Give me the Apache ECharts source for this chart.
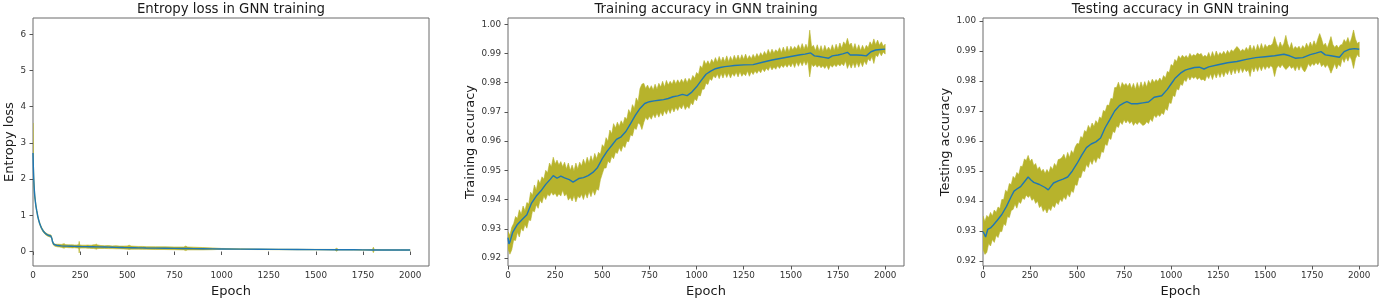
<!DOCTYPE html>
<html><head><meta charset="utf-8">
<script src="https://cdn.jsdelivr.net/npm/echarts@6/dist/echarts.min.js"></script>
<style>html,body{margin:0;padding:0;background:#fff}#c{width:1381px;height:298px}</style>
</head><body><div id="c"></div>
<script>
// ---------- tick labels ----------
const epochTicks = [0, 250, 500, 750, 1000, 1250, 1500, 1750, 2000];
const lossTicks = [0, 1, 2, 3, 4, 5, 6];
const accTicks = [0.92, 0.93, 0.94, 0.95, 0.96, 0.97, 0.98, 0.99, 1.00];

// ---------- entropy loss ----------
const lossEpochs = [0,2,4,6,8,10,13,16,20,25, 30,35,40,45,50,55,60,65,70,75, 80,85,90,94,97,100,103,106,110,115,
  120,130,140,150,160,165,170,180,190,200, 210,220,230,240,243,245,247,250,260,270, 280,290,300,310,320,330,335,340,350,360,
  380,400,420,440,460,480,500,510,520,540, 560,580,600,650,700,750,800,810,820,850, 900,950,1000,1100,1200,1300,1400,1500,1600,1610,
  1620,1700,1750,1800,1805,1810,1850,1900,1950,2000];
const lossMean = [2.72,2.30,2.00,1.78,1.62,1.50,1.36,1.24,1.12,0.98, 0.87,0.78,0.71,0.65,0.60,0.56,0.53,0.50,0.48,0.46,
  0.45,0.44,0.43,0.43,0.41,0.36,0.28,0.23,0.20,0.18, 0.17,0.165,0.16,0.155,0.152,0.150,0.150,0.148,0.146,0.145,
  0.143,0.142,0.140,0.139,0.138,0.138,0.138,0.137,0.136,0.135, 0.134,0.133,0.132,0.131,0.130,0.129,0.128,0.128,0.127,0.125,
  0.123,0.120,0.118,0.115,0.113,0.110,0.108,0.107,0.106,0.104, 0.102,0.100,0.098,0.094,0.090,0.086,0.083,0.082,0.082,0.080,
  0.077,0.074,0.071,0.066,0.062,0.058,0.055,0.052,0.049,0.049, 0.049,0.047,0.045,0.044,0.044,0.044,0.043,0.042,0.041,0.040];
const lossUpper = [3.55,2.45,2.10,1.86,1.68,1.55,1.40,1.28,1.15,1.01, 0.90,0.81,0.74,0.68,0.63,0.59,0.56,0.53,0.51,0.49,
  0.48,0.47,0.46,0.46,0.44,0.39,0.31,0.26,0.23,0.21, 0.20,0.20,0.20,0.195,0.21,0.22,0.195,0.19,0.185,0.185,
  0.185,0.18,0.18,0.185,0.21,0.28,0.20,0.18,0.175,0.175, 0.175,0.18,0.175,0.175,0.185,0.19,0.21,0.185,0.175,0.165,
  0.16,0.165,0.155,0.16,0.15,0.15,0.155,0.175,0.15,0.145, 0.14,0.14,0.135,0.13,0.13,0.125,0.125,0.15,0.125,0.12,
  0.11,0.10,0.085,0.075,0.07,0.066,0.062,0.06,0.058,0.09, 0.056,0.054,0.052,0.055,0.12,0.055,0.05,0.049,0.048,0.047];
const lossLower = [2.00,2.15,1.90,1.70,1.56,1.45,1.32,1.20,1.09,0.95, 0.84,0.75,0.68,0.62,0.57,0.53,0.50,0.47,0.45,0.43,
  0.42,0.41,0.40,0.40,0.38,0.33,0.25,0.20,0.17,0.15, 0.14,0.13,0.125,0.115,0.10,0.09,0.11,0.11,0.105,0.105,
  0.10,0.105,0.10,0.095,0.06,-0.04,0.07,0.095,0.095,0.095, 0.095,0.09,0.09,0.085,0.085,0.075,0.06,0.075,0.085,0.085,
  0.085,0.08,0.08,0.075,0.075,0.07,0.065,0.055,0.065,0.065, 0.065,0.06,0.06,0.055,0.055,0.05,0.045,0.025,0.045,0.045,
  0.045,0.05,0.06,0.057,0.054,0.05,0.048,0.045,0.04,0.01, 0.042,0.040,0.038,0.035,-0.03,0.035,0.036,0.035,0.034,0.033];

// ---------- band epochs (every 10 epochs) ----------
const bandEpochs = Array.from({length: 201}, (_, i) => i * 10);

// ---------- training accuracy ----------
const trainMeanEpochs = [0,5,10,25,50,75,100,125,150,175,200,225,240,260,280,300,325,345,375,400,425,450,475,500,525,550,575,600,625,650,
  675,700,725,750,775,800,825,850,875,900,925,950,975,1000,1025,1050,1075,1100,1125,1150,1175,1200,1250,1300,1350,1400,1450,1500,1550,1575,
  1605,1625,1650,1675,1700,1720,1750,1775,1800,1815,1850,1875,1900,1925,1950,1975,2000];
const trainMean = [0.9270,0.9248,0.9255,0.9288,0.9315,0.9332,0.9348,0.9388,0.9412,0.9430,0.9452,0.9470,0.9482,0.9473,0.9480,0.9474,0.9468,0.9460,0.9472,0.9475,
  0.9482,0.9493,0.9510,0.9540,0.9565,0.9585,0.9606,0.9615,0.9633,0.9660, 0.9688,0.9712,0.9729,0.9735,0.9738,0.9740,0.9742,0.9746,0.9752,0.9755,
  0.9760,0.9756,0.9768,0.9786,0.9808,0.9829,0.9840,0.9848,0.9852,0.9855, 0.9857,0.9859,0.9861,0.9862,0.9870,0.9878,0.9884,0.9890,0.9896,0.9898,
  0.9902,0.9892,0.9890,0.9887,0.9884,0.9892,0.9895,0.9899,0.9904,0.9895, 0.9895,0.9894,0.9892,0.9906,0.9912,0.9914,0.9915];
const trainUpper = [
  0.9290,0.9278,0.9305,0.9318,0.9342,0.9335,0.9365,0.9350,0.9378,0.9362,
  0.9390,0.9385,0.9425,0.9415,0.9450,0.9432,0.9468,0.9455,0.9478,0.9470,
  0.9500,0.9492,0.9525,0.9512,0.9545,0.9522,0.9535,0.9518,0.9530,0.9512,
  0.9528,0.9505,0.9525,0.9500,0.9518,0.9498,0.9525,0.9505,0.9528,0.9515,
  0.9538,0.9520,0.9545,0.9525,0.9550,0.9530,0.9558,0.9540,0.9562,0.9555,
  0.9588,0.9580,0.9612,0.9600,0.9638,0.9625,0.9660,0.9645,0.9665,0.9650,
  0.9670,0.9658,0.9682,0.9675,0.9708,0.9695,0.9725,0.9712,0.9748,0.9735,
  0.9780,0.9795,0.9798,0.9780,0.9792,0.9778,0.9790,0.9775,0.9795,0.9778,
  0.9798,0.9785,0.9805,0.9785,0.9808,0.9792,0.9805,0.9795,0.9810,0.9796,
  0.9810,0.9798,0.9812,0.9800,0.9815,0.9800,0.9815,0.9806,0.9825,0.9815,
  0.9835,0.9828,0.9858,0.9850,0.9876,0.9862,0.9875,0.9862,0.9880,0.9868,
  0.9886,0.9870,0.9890,0.9872,0.9888,0.9872,0.9892,0.9872,0.9890,0.9875,
  0.9894,0.9878,0.9895,0.9878,0.9896,0.9880,0.9898,0.9880,0.9893,0.9882,
  0.9897,0.9885,0.9900,0.9888,0.9903,0.9892,0.9907,0.9895,0.9914,0.9898,
  0.9915,0.9902,0.9913,0.9905,0.9920,0.9903,0.9922,0.9904,0.9925,0.9906,
  0.9925,0.9912,0.9924,0.9915,0.9930,0.9914,0.9934,0.9915,0.9932,0.9916,
  0.9980,0.9922,0.9928,0.9910,0.9930,0.9908,0.9927,0.9906,0.9928,0.9910,
  0.9922,0.9910,0.9930,0.9910,0.9932,0.9914,0.9936,0.9918,0.9940,0.9930,
  0.9952,0.9928,0.9936,0.9915,0.9934,0.9912,0.9930,0.9910,0.9928,0.9912,
  0.9928,0.9920,0.9940,0.9928,0.9950,0.9930,0.9946,0.9928,0.9940,0.9925,0.9932];
const trainLower = [
  0.9232,0.9213,0.9228,0.9262,0.9260,0.9288,0.9272,0.9302,0.9292,0.9315,
  0.9302,0.9330,0.9328,0.9362,0.9358,0.9382,0.9370,0.9398,0.9388,0.9412,
  0.9400,0.9418,0.9412,0.9425,0.9415,0.9422,0.9410,0.9420,0.9412,0.9432,
  0.9412,0.9420,0.9398,0.9408,0.9395,0.9414,0.9392,0.9412,0.9405,0.9418,
  0.9400,0.9422,0.9405,0.9428,0.9410,0.9432,0.9415,0.9436,0.9432,0.9468,
  0.9488,0.9508,0.9508,0.9532,0.9525,0.9548,0.9540,0.9562,0.9558,0.9578,
  0.9565,0.9585,0.9578,0.9600,0.9598,0.9622,0.9618,0.9645,0.9640,0.9662,
  0.9658,0.9640,0.9664,0.9682,0.9672,0.9685,0.9675,0.9692,0.9680,0.9696,
  0.9682,0.9700,0.9686,0.9705,0.9692,0.9710,0.9695,0.9714,0.9700,0.9716,
  0.9705,0.9720,0.9710,0.9726,0.9708,0.9720,0.9712,0.9732,0.9724,0.9745,
  0.9738,0.9758,0.9755,0.9778,0.9778,0.9798,0.9794,0.9814,0.9808,0.9824,
  0.9816,0.9830,0.9814,0.9832,0.9816,0.9834,0.9818,0.9833,0.9816,0.9832,
  0.9822,0.9836,0.9820,0.9838,0.9822,0.9832,0.9824,0.9840,0.9822,0.9838,
  0.9828,0.9840,0.9832,0.9843,0.9834,0.9848,0.9838,0.9850,0.9842,0.9856,
  0.9844,0.9854,0.9846,0.9858,0.9849,0.9860,0.9852,0.9862,0.9853,0.9864,
  0.9854,0.9868,0.9852,0.9871,0.9856,0.9872,0.9858,0.9874,0.9860,0.9874,
  0.9820,0.9864,0.9855,0.9862,0.9853,0.9861,0.9851,0.9858,0.9849,0.9860,
  0.9845,0.9861,0.9853,0.9862,0.9855,0.9864,0.9857,0.9866,0.9858,0.9874,
  0.9849,0.9866,0.9850,0.9868,0.9851,0.9870,0.9853,0.9872,0.9855,0.9874,
  0.9862,0.9882,0.9874,0.9890,0.9866,0.9895,0.9889,0.9904,0.9892,0.9905,0.9898];

// ---------- testing accuracy ----------
const testMeanEpochs = [0,7,14,25,40,55,75,100,125,150,165,180,187,200,215,240,255,270,300,330,347,360,375,400,425,450,475,500,525,550,
  575,600,625,650,675,700,725,750,765,790,820,850,880,910,950,980,1000,1020,1050,1075,1100,1125,1150,1175,1200,1250,1300,1350,1400,1450,
  1500,1550,1600,1630,1660,1700,1740,1770,1797,1820,1850,1895,1920,1950,1975,2000];
const testMean = [0.9298,0.9290,0.9280,0.9305,0.9310,0.9320,0.9335,0.9355,0.9382,0.9415,0.9433,0.9440,0.9436,0.9448,0.9460,0.9480,0.9470,0.9462,0.9455,0.9445,
  0.9437,0.9448,0.9460,0.9467,0.9473,0.9480,0.9500,0.9525,0.9553,0.9578, 0.9590,0.9597,0.9610,0.9645,0.9672,0.9700,0.9718,0.9727,0.9731,0.9724,
  0.9724,0.9727,0.9730,0.9746,0.9751,0.9772,0.9790,0.9808,0.9826,0.9836, 0.9841,0.9845,0.9846,0.9840,0.9847,0.9854,0.9861,0.9865,0.9872,0.9878,
  0.9881,0.9884,0.9889,0.9884,0.9876,0.9878,0.9888,0.9893,0.9898,0.9887, 0.9884,0.9879,0.9898,0.9906,0.9908,0.9906];
const testUpper = [
  0.9350,0.9332,0.9352,0.9345,0.9362,0.9350,0.9370,0.9362,0.9380,0.9375,
  0.9405,0.9405,0.9436,0.9430,0.9458,0.9455,0.9482,0.9475,0.9495,0.9488,
  0.9516,0.9515,0.9540,0.9535,0.9552,0.9532,0.9540,0.9518,0.9525,0.9505,
  0.9514,0.9498,0.9506,0.9492,0.9505,0.9494,0.9515,0.9505,0.9525,0.9515,
  0.9538,0.9540,0.9545,0.9556,0.9538,0.9562,0.9545,0.9568,0.9558,0.9580,
  0.9592,0.9590,0.9615,0.9610,0.9635,0.9630,0.9652,0.9640,0.9660,0.9648,
  0.9668,0.9658,0.9680,0.9675,0.9702,0.9698,0.9720,0.9718,0.9742,0.9740,
  0.9778,0.9778,0.9796,0.9775,0.9795,0.9785,0.9792,0.9782,0.9793,0.9775,
  0.9792,0.9772,0.9795,0.9775,0.9797,0.9778,0.9798,0.9780,0.9802,0.9790,
  0.9806,0.9795,0.9805,0.9798,0.9810,0.9800,0.9818,0.9810,0.9832,0.9828,
  0.9855,0.9850,0.9872,0.9865,0.9884,0.9875,0.9886,0.9878,0.9885,0.9876,
  0.9892,0.9882,0.9888,0.9884,0.9893,0.9888,0.9892,0.9880,0.9886,0.9880,
  0.9895,0.9878,0.9898,0.9880,0.9900,0.9884,0.9895,0.9888,0.9899,0.9888,
  0.9902,0.9892,0.9904,0.9898,0.9907,0.9915,0.9908,0.9898,0.9906,0.9900,
  0.9912,0.9902,0.9920,0.9902,0.9918,0.9900,0.9922,0.9904,0.9925,0.9906,
  0.9922,0.9912,0.9920,0.9918,0.9925,0.9948,0.9926,0.9910,0.9930,0.9914,
  0.9926,0.9952,0.9924,0.9908,0.9928,0.9905,0.9915,0.9908,0.9916,0.9905,
  0.9918,0.9908,0.9926,0.9912,0.9930,0.9915,0.9934,0.9918,0.9940,0.9958,
  0.9940,0.9918,0.9926,0.9910,0.9928,0.9948,0.9922,0.9912,0.9920,0.9910,
  0.9920,0.9922,0.9938,0.9928,0.9945,0.9925,0.9944,0.9970,0.9940,0.9925,0.9930];
const testLower = [
  0.9240,0.9222,0.9228,0.9258,0.9250,0.9272,0.9262,0.9285,0.9278,0.9298,
  0.9298,0.9324,0.9318,0.9348,0.9345,0.9368,0.9372,0.9390,0.9376,0.9398,
  0.9392,0.9410,0.9405,0.9420,0.9412,0.9418,0.9402,0.9408,0.9392,0.9400,
  0.9378,0.9385,0.9365,0.9375,0.9360,0.9376,0.9368,0.9386,0.9378,0.9396,
  0.9388,0.9406,0.9398,0.9414,0.9405,0.9424,0.9413,0.9434,0.9428,0.9455,
  0.9452,0.9478,0.9478,0.9502,0.9498,0.9522,0.9512,0.9535,0.9522,0.9542,
  0.9528,0.9546,0.9540,0.9565,0.9562,0.9590,0.9585,0.9610,0.9605,0.9632,
  0.9628,0.9650,0.9645,0.9664,0.9655,0.9671,0.9660,0.9669,0.9658,0.9666,
  0.9652,0.9662,0.9655,0.9664,0.9658,0.9652,0.9655,0.9664,0.9658,0.9674,
  0.9665,0.9686,0.9678,0.9688,0.9682,0.9694,0.9688,0.9708,0.9702,0.9728,
  0.9725,0.9752,0.9748,0.9774,0.9770,0.9790,0.9785,0.9804,0.9798,0.9815,
  0.9803,0.9815,0.9808,0.9814,0.9805,0.9812,0.9803,0.9806,0.9800,0.9818,
  0.9808,0.9824,0.9805,0.9826,0.9810,0.9828,0.9812,0.9830,0.9814,0.9832,
  0.9821,0.9838,0.9820,0.9840,0.9824,0.9842,0.9826,0.9844,0.9828,0.9842,
  0.9831,0.9838,0.9815,0.9846,0.9830,0.9848,0.9832,0.9850,0.9834,0.9851,
  0.9838,0.9850,0.9842,0.9852,0.9844,0.9815,0.9842,0.9852,0.9844,0.9855,
  0.9846,0.9838,0.9844,0.9852,0.9842,0.9848,0.9834,0.9851,0.9836,0.9852,
  0.9838,0.9830,0.9842,0.9858,0.9848,0.9858,0.9852,0.9862,0.9854,0.9864,
  0.9848,0.9856,0.9845,0.9855,0.9843,0.9826,0.9842,0.9858,0.9840,0.9856,
  0.9848,0.9876,0.9862,0.9880,0.9866,0.9884,0.9869,0.9842,0.9874,0.9888,0.9880];

// ---------- styling ----------
const OLIVE = '#b7b32c';
const BLUE = '#1f77b4';
const FONT = 'DejaVu Sans';
const grids = [
  {left: 33, top: 18, width: 396, height: 248},
  {left: 508, top: 18, width: 396, height: 248},
  {left: 983, top: 18, width: 395, height: 248}
];
const titles = ['Entropy loss in GNN training', 'Training accuracy in GNN training', 'Testing accuracy in GNN training'];
const yNames = ['Entropy loss', 'Training accuracy', 'Testing accuracy'];
const yRanges = [[-0.4, 6.45], [0.91726, 1.00216], [0.91833, 1.0010]];
const yTickSets = [lossTicks, accTicks, accTicks];
const yNameGaps = [17, 30, 30];

const chart = echarts.init(document.getElementById('c'), null, {renderer: 'canvas'});

function panelSeries(i, ex, up, lo, mx, mean) {
  return [
    {type: 'custom', xAxisIndex: i, yAxisIndex: i, silent: true, z: 2, clip: true,
     data: [[ex[0], lo[0]]],
     renderItem: function (params, api) {
       const pts = [];
       for (let k = 0; k < ex.length; k++) pts.push(api.coord([ex[k], up[k]]));
       for (let k = ex.length - 1; k >= 0; k--) pts.push(api.coord([ex[k], lo[k]]));
       const cs = params.coordSys;
       return {
         type: 'polygon', shape: {points: pts},
         style: {fill: OLIVE, stroke: OLIVE, lineWidth: 0.6},
         clipPath: {type: 'rect', shape: {x: cs.x, y: cs.y, width: cs.width, height: cs.height}}
       };
     }},
    {type: 'line', xAxisIndex: i, yAxisIndex: i,
     data: mx.map((e, k) => [e, mean[k]]), symbol: 'none', showSymbol: false,
     lineStyle: {color: BLUE, width: 1.4}, silent: true, z: 3}
  ];
}

const option = {
  animation: false,
  backgroundColor: '#ffffff',
  textStyle: {fontFamily: FONT},
  title: titles.map((t, i) => ({
    text: t, left: grids[i].left + grids[i].width / 2, top: 3, textAlign: 'center', padding: 0,
    textStyle: {fontFamily: FONT, fontSize: 13.3, fontWeight: 'normal', color: '#1a1a1a'}
  })),
  grid: grids.map(g => Object.assign({show: true, borderColor: '#6b6b6b', borderWidth: 1,
    backgroundColor: 'transparent', containLabel: false, outerBoundsMode: 'none'}, g)),
  xAxis: grids.map((g, i) => ({
    type: 'value', gridIndex: i, min: 0, max: 2100,
    name: 'Epoch', nameLocation: 'middle', nameGap: 14,
    nameTextStyle: {fontFamily: FONT, fontSize: 13, color: '#1a1a1a'},
    axisLine: {show: false},
    splitLine: {show: false},
    axisTick: {show: true, length: 3.5, customValues: epochTicks, lineStyle: {color: '#555', width: 1}},
    axisLabel: {customValues: epochTicks, fontFamily: FONT, fontSize: 8.8, color: '#333', margin: 5,
      formatter: v => String(v)}
  })),
  yAxis: grids.map((g, i) => ({
    type: 'value', gridIndex: i, min: yRanges[i][0], max: yRanges[i][1],
    name: yNames[i], nameLocation: 'middle', nameRotate: 90, nameGap: yNameGaps[i],
    nameTextStyle: {fontFamily: FONT, fontSize: 13, color: '#1a1a1a'},
    axisLine: {show: false},
    splitLine: {show: false},
    axisTick: {show: true, length: 3.5, customValues: yTickSets[i], lineStyle: {color: '#555', width: 1}},
    axisLabel: {customValues: yTickSets[i], fontFamily: FONT, fontSize: 8.8, color: '#333', margin: 7,
      formatter: v => (i === 0 ? String(Math.round(v)) : v.toFixed(2))}
  })),
  series: [].concat(
    panelSeries(0, lossEpochs, lossUpper, lossLower, lossEpochs, lossMean),
    panelSeries(1, bandEpochs, trainUpper, trainLower, trainMeanEpochs, trainMean),
    panelSeries(2, bandEpochs, testUpper, testLower, testMeanEpochs, testMean)
  )
};
chart.setOption(option);
</script>
</body></html>
